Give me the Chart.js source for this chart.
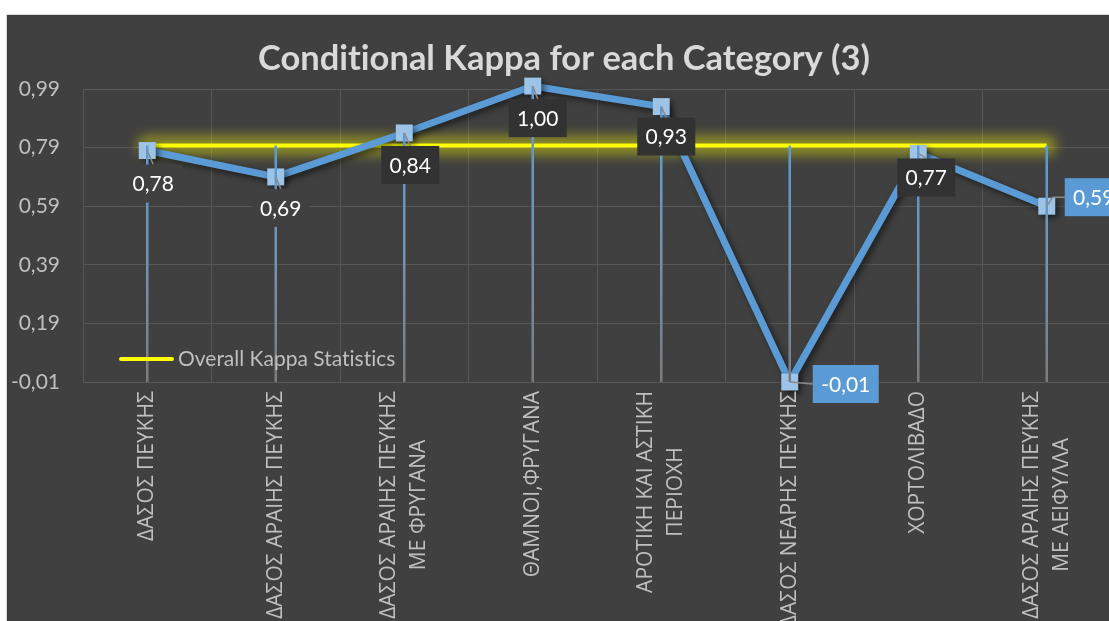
<!DOCTYPE html>
<html>
<head>
<meta charset="utf-8">
<title>Conditional Kappa for each Category (3)</title>
<script src="https://cdn.jsdelivr.net/npm/chart.js@4.4.1/dist/chart.umd.min.js"></script>
<style>
  html, body { margin: 0; padding: 0; background: #ffffff; overflow: hidden; width: 1109px; height: 621px; }
  #frame { position: absolute; left: 6px; top: 14px; width: 1130px; height: 700px;
           border: 1px solid #d9d9d9; background: #404040; }
  #frame canvas { position: absolute; left: 0; top: 0; }
</style>
</head>
<body>
<div id="frame"><canvas id="kappaChart" width="1120" height="690"></canvas></div>
<script>
// Land-cover categories (each entry = lines of the axis label)
const categories = [
  ['ΔΑΣΟΣ ΠΕΥΚΗΣ'],
  ['ΔΑΣΟΣ ΑΡΑΙΗΣ ΠΕΥΚΗΣ'],
  ['ΔΑΣΟΣ ΑΡΑΙΗΣ ΠΕΥΚΗΣ', 'ΜΕ ΦΡΥΓΑΝΑ'],
  ['ΘΑΜΝΟΙ,ΦΡΥΓΑΝΑ'],
  ['ΑΡΟΤΙΚΗ ΚΑΙ ΑΣΤΙΚΗ', 'ΠΕΡΙΟΧΗ'],
  ['ΔΑΣΟΣ ΝΕΑΡΗΣ ΠΕΥΚΗΣ'],
  ['ΧΟΡΤΟΛΙΒΑΔΟ'],
  ['ΔΑΣΟΣ ΑΡΑΙΗΣ ΠΕΥΚΗΣ', 'ΜΕ ΑΕΙΦΥΛΛΑ']
];

// Conditional kappa per category
const conditionalKappa = [0.78, 0.69, 0.84, 1.00, 0.93, -0.01, 0.77, 0.59];

// Overall kappa statistic, repeated across categories
const overallKappa = [0.797, 0.797, 0.797, 0.797, 0.797, 0.797, 0.797, 0.797];

// Value axis
const Y_MIN = -0.01;
const Y_MAX = 0.99;
const Y_STEP = 0.2;

const TITLE = 'Conditional Kappa for each Category (3)';
const OVERALL_LABEL = 'Overall Kappa Statistics';

const fmt = v => v.toFixed(2).replace('.', ',');

// Placement of each value label relative to its point
const labelPlacement = [
  { dx: 6, dy: 33, fill: '#404040' },
  { dx: 5, dy: 31, fill: '#404040' },
  { dx: 6, dy: 32, fill: '#323232' },
  { dx: 5, dy: 32, fill: '#323232' },
  { dx: 5, dy: 30, fill: '#323232' },
  { dx: 56, dy: 2, fill: '#5b9bd5', callout: 'side' },
  { dx: 8, dy: 24, fill: '#323232' },
  { dx: 47, dy: -9, fill: '#5b9bd5', callout: 'elbow' }
];

const LABEL_FONT = '21px Lato, "Open Sans", sans-serif';

const decorPlugin = {
  id: 'decor',
  beforeDatasetDraw(chart, args) {
    const ctx = chart.ctx;
    if (args.index === 1) {
      // soft yellow glow around the overall kappa line
      const pts = args.meta.data;
      ctx.save();
      ctx.filter = 'blur(6px)';
      ctx.strokeStyle = 'rgba(255,255,0,0.4)';
      ctx.lineWidth = 20;
      ctx.lineCap = 'round';
      ctx.beginPath();
      ctx.moveTo(pts[0].x, pts[0].y);
      ctx.lineTo(pts[pts.length - 1].x, pts[pts.length - 1].y);
      ctx.stroke();
      ctx.restore();
    }
    ctx.save();
    if (args.index === 0) {
      ctx.shadowColor = 'rgba(0,0,0,0.55)';
      ctx.shadowBlur = 6;
      ctx.shadowOffsetX = 3;
      ctx.shadowOffsetY = 3;
    }
  },
  afterDatasetDraw(chart) {
    chart.ctx.restore();
  },
  afterDatasetsDraw(chart) {
    const ctx = chart.ctx;
    const ys = chart.scales.y;
    const area = chart.chartArea;
    const pts = chart.getDatasetMeta(0).data;

    // drop lines from the highest series value to the axis
    ctx.save();
    pts.forEach((pt, i) => {
      const top = ys.getPixelForValue(Math.max(conditionalKappa[i], overallKappa[i]));
      const g = ctx.createLinearGradient(0, top, 0, area.bottom);
      g.addColorStop(0, '#5b9bd5');
      g.addColorStop(0.5, '#7394b4');
      g.addColorStop(1, '#7c7c7c');
      ctx.strokeStyle = g;
      ctx.lineWidth = 2.5;
      ctx.beginPath();
      ctx.moveTo(pt.x, top);
      ctx.lineTo(pt.x, area.bottom);
      ctx.stroke();
    });
    ctx.restore();

    // value labels with leader lines
    ctx.save();
    ctx.font = LABEL_FONT;
    pts.forEach((pt, i) => {
      const p = labelPlacement[i];
      const text = fmt(conditionalKappa[i]);
      const w = Math.round(ctx.measureText(text).width) + 17;
      const h = 38;
      const cx = pt.x + p.dx, cy = pt.y + p.dy;
      const left = cx - w / 2, top = cy - h / 2;

      ctx.strokeStyle = '#8a8a8a';
      ctx.lineWidth = 1.5;
      ctx.beginPath();
      if (p.callout === 'side') {
        ctx.moveTo(pt.x, pt.y);
        ctx.lineTo(left, cy);
      } else if (p.callout === 'elbow') {
        ctx.moveTo(pt.x, pt.y);
        ctx.lineTo(left - 12, cy);
        ctx.lineTo(left, cy);
      } else {
        ctx.moveTo(pt.x, pt.y);
        ctx.lineTo(cx, top);
      }
      ctx.stroke();

      ctx.fillStyle = p.fill;
      ctx.fillRect(left, top, w, h);
      ctx.fillStyle = '#ffffff';
      ctx.textAlign = 'center';
      ctx.textBaseline = 'middle';
      ctx.fillText(text, cx, cy + 1);
    });
    ctx.restore();
  },
  afterDraw(chart) {
    const ctx = chart.ctx;
    const xs = chart.scales.x;

    // title
    ctx.save();
    ctx.textRendering = 'optimizeSpeed';
    ctx.fillStyle = '#d9d9d9';
    ctx.font = 'bold 35px Lato, "Open Sans", sans-serif';
    ctx.textAlign = 'center';
    ctx.textBaseline = 'alphabetic';
    ctx.fillText(TITLE, 557, 55, 612);
    ctx.restore();

    // legend entry for the overall kappa line
    ctx.save();
    ctx.textRendering = 'optimizeSpeed';
    ctx.strokeStyle = '#ffff00';
    ctx.lineWidth = 4;
    ctx.lineCap = 'round';
    ctx.beginPath();
    ctx.moveTo(114, 344);
    ctx.lineTo(165, 344);
    ctx.stroke();
    ctx.fillStyle = '#bfbfbf';
    ctx.font = LABEL_FONT;
    ctx.textAlign = 'left';
    ctx.textBaseline = 'alphabetic';
    ctx.fillText(OVERALL_LABEL, 171, 351, 226);
    ctx.restore();

    // rotated category labels, lines centred on each other
    ctx.save();
    ctx.fillStyle = '#bfbfbf';
    ctx.font = '21px "Open Sans", sans-serif';
    ctx.textAlign = 'center';
    ctx.textBaseline = 'middle';
    const labelTop = 376;
    const lineGap = 30;
    categories.forEach((lines, i) => {
      const x = xs.getPixelForValue(i);
      const maxW = Math.max(...lines.map(s => ctx.measureText(s).width));
      ctx.save();
      ctx.translate(x, labelTop);
      ctx.rotate(-Math.PI / 2);
      lines.forEach((s, j) => {
        ctx.fillText(s, -maxW / 2, (j - (lines.length - 1) / 2) * lineGap);
      });
      ctx.restore();
    });
    ctx.restore();
  }
};

new Chart(document.getElementById('kappaChart'), {
  type: 'line',
  data: {
    labels: categories,
    datasets: [
      {
        label: 'Conditional Kappa',
        data: conditionalKappa,
        borderColor: '#5b9bd5',
        borderWidth: 7,
        tension: 0,
        pointStyle: 'rect',
        pointRadius: 12,
        pointBorderWidth: 0,
        pointBackgroundColor: '#9dc3e6',
        pointHoverRadius: 12,
        clip: false
      },
      {
        label: OVERALL_LABEL,
        data: overallKappa,
        borderColor: '#ffff00',
        borderWidth: 4,
        pointRadius: 0,
        tension: 0,
        clip: false
      }
    ]
  },
  options: {
    responsive: false,
    devicePixelRatio: 1,
    animation: false,
    events: [],
    layout: { padding: { left: 0, top: 74, right: 16, bottom: 323 } },
    plugins: {
      legend: { display: false },
      title: { display: false },
      tooltip: { enabled: false }
    },
    scales: {
      x: {
        offset: true,
        grid: { offset: true, color: '#575757', lineWidth: 1, drawTicks: false },
        border: { display: false },
        ticks: { display: false },
        afterFit: s => { s.height = 0; }
      },
      y: {
        min: Y_MIN,
        max: Y_MAX,
        ticks: {
          stepSize: Y_STEP,
          color: '#bfbfbf',
          font: { family: 'Lato, "Open Sans", sans-serif', size: 21 },
          padding: 23,
          callback: v => fmt(v)
        },
        grid: { color: '#575757', lineWidth: 1, drawTicks: false },
        border: { display: false },
        afterFit: s => { s.width = 76; }
      }
    }
  },
  plugins: [decorPlugin]
});
</script>
</body>
</html>
